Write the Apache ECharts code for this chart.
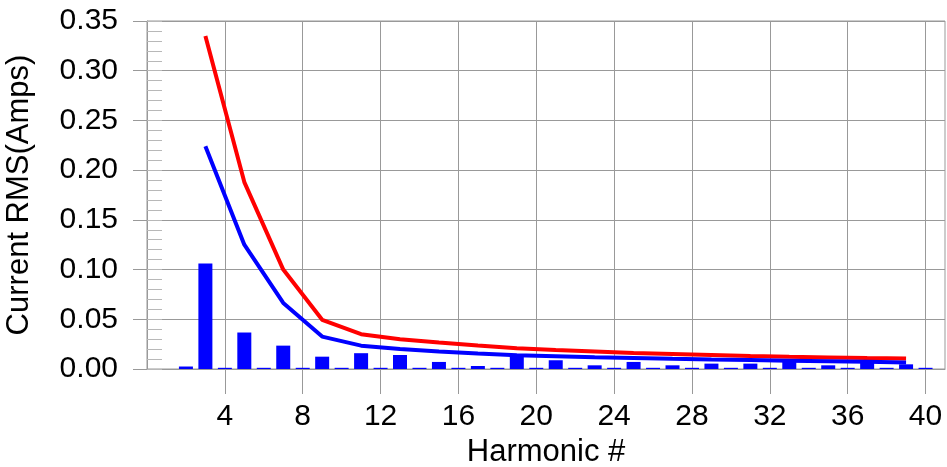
<!DOCTYPE html>
<html>
<head>
<meta charset="utf-8">
<title>Harmonic current</title>
<script src="https://cdn.jsdelivr.net/npm/echarts@6/dist/echarts.min.js"></script>
<style>
  html, body { margin: 0; padding: 0; background: #fff; }
  #myChart { width: 947px; height: 467px; }
</style>
</head>
<body>
<div id="myChart"></div>
<script>
// harmonic numbers for the bars
const harmonics = [2, 3, 4, 5, 6, 7, 8, 9, 10, 11, 12, 13, 14, 15, 16, 17, 18, 19, 20, 21,
  22, 23, 24, 25, 26, 27, 28, 29, 30, 31, 32, 33, 34, 35, 36, 37, 38, 39, 40]
// measured current per harmonic (bars)
const barValues = [0.0025, 0.106, 0.0012, 0.0367, 0.0012, 0.0235, 0.0012, 0.0124, 0.0012, 0.0159,
  0.0012, 0.0141, 0.0012, 0.0071, 0.0012, 0.003, 0.0012, 0.0148, 0.0012, 0.0088,
  0.0012, 0.0037, 0.0012, 0.0071, 0.0012, 0.0037, 0.0012, 0.0054, 0.0012, 0.0054,
  0.0012, 0.0081, 0.0012, 0.0037, 0.0012, 0.0076, 0.0012, 0.0047, 0.0012]
// odd harmonics for the limit lines
const oddHarmonics = [3, 5, 7, 9, 11, 13, 15, 17, 19, 21, 23, 25, 27, 29, 31, 33, 35, 37, 39]
const redValues = [0.335, 0.188, 0.100, 0.0495, 0.035, 0.030, 0.0266, 0.0236, 0.0209, 0.019,
  0.0175, 0.016, 0.015, 0.014, 0.013, 0.0122, 0.0116, 0.011, 0.0105]
const blueValues = [0.224, 0.125, 0.0664, 0.0326, 0.0235, 0.0202, 0.0175, 0.0155, 0.0138, 0.0128,
  0.0118, 0.011, 0.0102, 0.0095, 0.009, 0.0084, 0.0078, 0.0072, 0.0066]
// x tick labels
const xTicks = [4, 8, 12, 16, 20, 24, 28, 32, 36, 40]

const font = "'Liberation Sans', Arial, sans-serif"
const gridColor = '#999'

const myChart = echarts.init(document.getElementById('myChart'))
const option = {
  animation: false,
  textStyle: { fontFamily: font },
  grid: {
    left: 147,
    right: 2,
    top: 21,
    bottom: 98,
    outerBoundsMode: 'none',
    show: true,
    borderColor: gridColor,
    borderWidth: 1
  },
  xAxis: {
    type: 'value',
    min: 0,
    max: 41,
    interval: 4,
    name: 'Harmonic #',
    nameLocation: 'middle',
    nameGap: 63,
    nameTextStyle: { color: '#000', fontSize: 31, fontFamily: font },
    axisLine: { lineStyle: { color: gridColor } },
    axisTick: { customValues: xTicks, length: 25, lineStyle: { color: gridColor } },
    axisLabel: { customValues: xTicks, color: '#000', fontSize: 30, margin: 33, fontFamily: font },
    splitLine: { show: true, lineStyle: { color: gridColor } }
  },
  yAxis: [
    {
      type: 'value',
      min: 0,
      max: 0.35,
      interval: 0.05,
      name: 'Current RMS(Amps)',
      nameLocation: 'middle',
      nameRotate: 90,
      nameGap: 112,
      nameTextStyle: { color: '#000', fontSize: 31, fontFamily: font },
      axisLine: { show: true, lineStyle: { color: gridColor } },
      axisTick: { show: true, length: 14, lineStyle: { color: gridColor } },
      axisLabel: {
        color: '#000',
        fontSize: 30,
        margin: 29,
        fontFamily: font,
        formatter: v => v.toFixed(2)
      },
      splitLine: { show: true, lineStyle: { color: gridColor } }
    },
    {
      // only the small inner ticks
      type: 'value',
      position: 'left',
      min: 0,
      max: 0.35,
      interval: 0.01,
      axisLine: { show: false },
      axisTick: { show: true, inside: true, length: 15, lineStyle: { color: '#b8b8b8' } },
      axisLabel: { show: false },
      splitLine: { show: false }
    }
  ],
  series: [
    {
      type: 'bar',
      barWidth: 14,
      itemStyle: { color: '#0000ff' },
      data: harmonics.map((h, i) => [h, barValues[i]])
    },
    {
      type: 'line',
      symbol: 'none',
      lineStyle: { color: '#ff0000', width: 4 },
      data: oddHarmonics.map((h, i) => [h, redValues[i]])
    },
    {
      type: 'line',
      symbol: 'none',
      lineStyle: { color: '#0000ff', width: 4 },
      data: oddHarmonics.map((h, i) => [h, blueValues[i]])
    }
  ]
}
myChart.setOption(option)
</script>
</body>
</html>
